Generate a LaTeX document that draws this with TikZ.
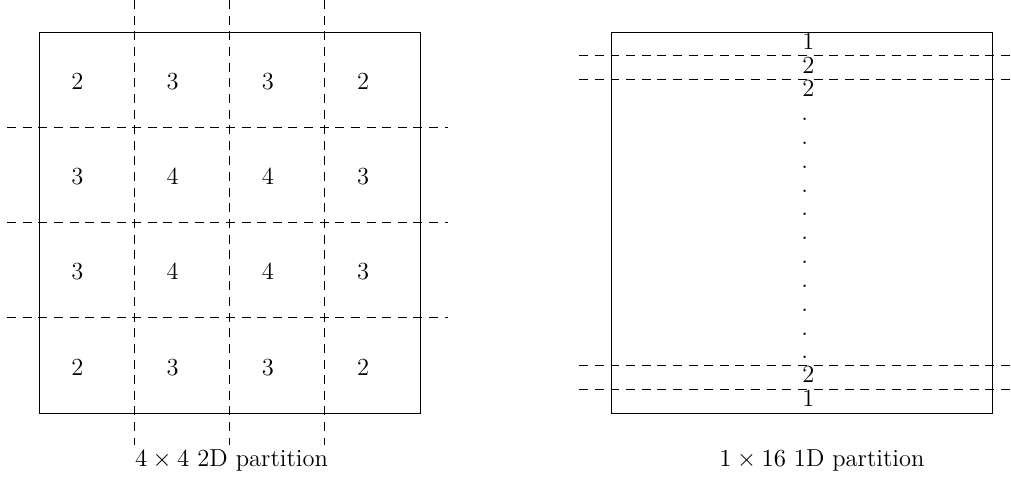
\documentclass[tikz,border=0pt]{standalone}
\begin{document}
\begin{tikzpicture}[x=0.015748cm,y=-0.015748cm,
  frame/.style={draw,line width=0.4pt},
  cut/.style={draw,line width=0.4pt,dash pattern=on 4pt off 3pt},
  lab/.style={anchor=base,inner sep=0pt,font=\fontsize{11}{13}\selectfont},
  rlab/.style={anchor=base west,inner sep=0pt,font=\fontsize{11}{13}\selectfont}]
\useasboundingbox (0,0) rectangle (1011,482);
% left square
\draw[frame] (39,32) rectangle (420,413);
\foreach \i in {1,2,3} {
  \draw[cut] ({39+95.25*\i},0.25) -- ({39+95.25*\i},444.75);
  \draw[cut] (7.25,{32+95.25*\i}) -- (448,{32+95.25*\i});
}
\foreach \row [count=\j from 0] in {{2,3,3,2},{3,4,4,3},{3,4,4,3},{2,3,3,2}} {
  \foreach \v [count=\i from 0] in \row {
    \node[lab] (L\i\j) at ({77.5+95.25*\i},{89.3+95.25*\j}) {\v};
  }
}
\node[lab] (capL) at (231.5,466) {$4\times 4$ 2D partition};
% right square
\draw[frame] (611,32) rectangle (992,413);
\foreach \k in {1,2,14,15} {
  \draw[cut] (579.25,{32+23.8125*\k}) -- (1023.75,{32+23.8125*\k});
}
\node[rlab] (R0) at (802,{49.3+23.8125*0}) {1};
\node[rlab] (R1) at (802,{49.3+23.8125*1}) {2};
\node[rlab] (R2) at (802,{49.3+23.8125*2}) {2};
\foreach \k in {3,...,13} {
  \node[rlab] (R\k) at (801,{49.3+23.8125*\k}) {.};
}
\node[rlab] (R14) at (802,{49.3+23.8125*14}) {2};
\node[rlab] (R15) at (802,{49.3+23.8125*15}) {1};
\node[lab] (capR) at (822,466) {$1\times 16$ 1D partition};
\end{tikzpicture}
\end{document}
